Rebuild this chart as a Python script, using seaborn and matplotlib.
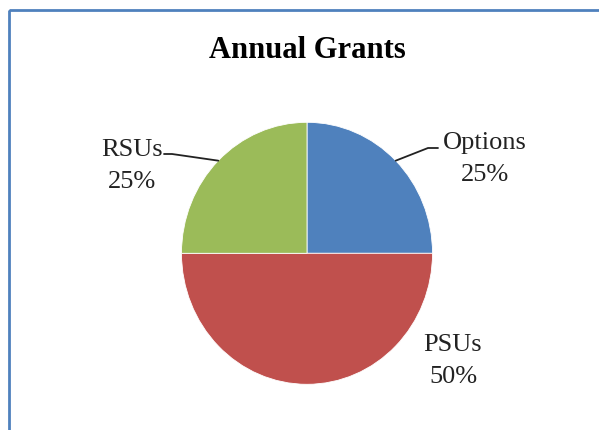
import numpy as np
import matplotlib
matplotlib.use("Agg")
import matplotlib.pyplot as plt
import seaborn as sns
from matplotlib.patches import Rectangle

# data
grant_types = ["Options", "PSUs", "RSUs"]
grant_shares = [25, 50, 25]
slice_colors = ["#4F81BD", "#C0504D", "#9BBB59"]

sns.set_style("white")
plt.rcParams['font.family'] = ['Liberation Serif', 'DejaVu Serif']

W, H = 599, 431
fig = plt.figure(figsize=(W / 100, H / 100), dpi=100)

# pie centre / radii in pixels (reference pie is a touch taller than wide)
cx, cy, rx, ry = 307, 254.3, 125.5, 131

# pie in its own axes, unit radius, stretched to match the pixel ellipse
ax_pie = fig.add_axes([0, 0, 1, 1])
wedges, _ = ax_pie.pie(grant_shares, colors=slice_colors, startangle=90, counterclock=False,
                       radius=1, wedgeprops=dict(linewidth=0.6, edgecolor="white"))
ax_pie.set_aspect('auto')
ax_pie.set_xlim(-cx / rx, (W - cx) / rx)
ax_pie.set_ylim(-(H - cy) / ry, cy / ry)
ax_pie.axis('off')

# overlay in pixel coords for frame, title, labels
ax = fig.add_axes([0, 0, 1, 1])
ax.set_xlim(0, W)
ax.set_ylim(H, 0)
ax.axis('off')

ax.add_patch(Rectangle((9, 11), 620, 450, fill=False, edgecolor="#4F81BD", lw=2))

ax.text(cx, 50, "Annual Grants", ha='center', va='center', fontsize=22, fontweight='bold', color='black')

total = sum(grant_shares)
# label anchors (layout only): text centre, and leader path points (None = no leader)
label_pos = {"Options": (485, 159), "PSUs": (453, 361), "RSUs": (132, 166)}
leader_mid = {"Options": [(428, 149), (438, 149)], "PSUs": None, "RSUs": [(172, 155), (164, 155)]}

for w, name, val in zip(wedges, grant_types, grant_shares):
    ang = np.deg2rad((w.theta1 + w.theta2) / 2)
    ex, ey = cx + rx * np.cos(ang), cy - ry * np.sin(ang)
    tx, ty = label_pos[name]
    ax.text(tx, ty, f"{name}\n{val / total * 100:.0f}%", ha='center', va='center',
            fontsize=19, color='#222222', linespacing=1.55)
    if leader_mid[name]:
        pts = [(ex, ey)] + leader_mid[name]
        xs, ys = zip(*pts)
        ax.plot(xs, ys, color='#222222', lw=1.3)

fig.savefig("out.png", dpi=100)
